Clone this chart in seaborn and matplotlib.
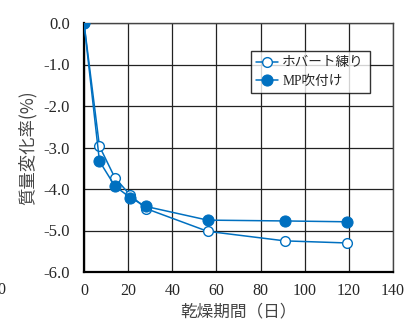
import numpy as np
import pandas as pd
import seaborn as sns
import matplotlib.pyplot as plt

# drying days and mass change (%)
days = [0, 7, 14, 21, 28, 56, 91, 119]
hobart = [0.0, -2.97, -3.73, -4.15, -4.47, -5.02, -5.25, -5.30]  # ホバート練り
mp_spray = [0.0, -3.33, -3.93, -4.21, -4.42, -4.75, -4.77, -4.79]  # MP吹付け
series_names = ['ホバート練り', 'MP吹付け']

x_ticks = list(range(0, 141, 20))
y_ticks = [0.0, -1.0, -2.0, -3.0, -4.0, -5.0, -6.0]

sns.set_theme(style='white')
plt.rcParams['font.family'] = ['Liberation Serif', 'Noto Sans CJK JP']

blue = '#0070C0'

fig = plt.figure(figsize=(4.19, 3.2), dpi=100)
ax = fig.add_axes([84 / 419, 1 - 272 / 320, 309 / 419, 249 / 320])

df_hob = pd.DataFrame({'day': days, 'val': hobart})
df_mp = pd.DataFrame({'day': days, 'val': mp_spray})

sns.lineplot(data=df_hob, x='day', y='val', ax=ax, color=blue, lw=1.1,
             marker='o', markersize=7, markerfacecolor='white',
             markeredgecolor=blue, markeredgewidth=1.0, label=series_names[0], zorder=3)
sns.lineplot(data=df_mp, x='day', y='val', ax=ax, color=blue, lw=1.1,
             marker='o', markersize=8, markerfacecolor=blue,
             markeredgecolor=blue, label=series_names[1], zorder=4)

ax.set_xlim(0, 140)
ax.set_ylim(-6.0, 0.0)
ax.set_xticks(x_ticks)
ax.set_yticks(y_ticks)
ax.set_xticklabels([str(t) for t in x_ticks], fontsize=11.5)
ax.set_yticklabels(['%.1f' % t for t in y_ticks], fontsize=12)
ax.tick_params(axis='x', length=0, pad=8)
ax.tick_params(axis='y', length=0, pad=10)
ax.grid(True, color='#222222', lw=0.9)
ax.set_axisbelow(True)

for s in ['top', 'right']:
    ax.spines[s].set_color('#444444')
    ax.spines[s].set_linewidth(1.0)
for s in ['left', 'bottom']:
    ax.spines[s].set_color('black')
    ax.spines[s].set_linewidth(1.6)

ax.set_xlabel('乾燥期間（日）', fontsize=12, color='#444444', labelpad=3,
              family=['Noto Sans CJK JP'])
ax.set_ylabel('質量変化率(%)', fontsize=12.5, color='#444444', labelpad=5,
              family=['Noto Sans CJK JP'])

leg = ax.legend(loc='upper left', bbox_to_anchor=(167 / 309, 1 - 28 / 249),
                borderaxespad=0, fontsize=9.8, frameon=True, fancybox=False,
                handlelength=1.6, borderpad=0.4, labelspacing=0.4,
                handletextpad=0.3)
leg.get_frame().set_edgecolor('black')
leg.get_frame().set_linewidth(1.0)

# leftover label fragment at the left edge
fig.text(-0.006, 1 - 290 / 320, '0', fontsize=11.5, va='center', ha='left')

fig.savefig('out.png', dpi=100)
